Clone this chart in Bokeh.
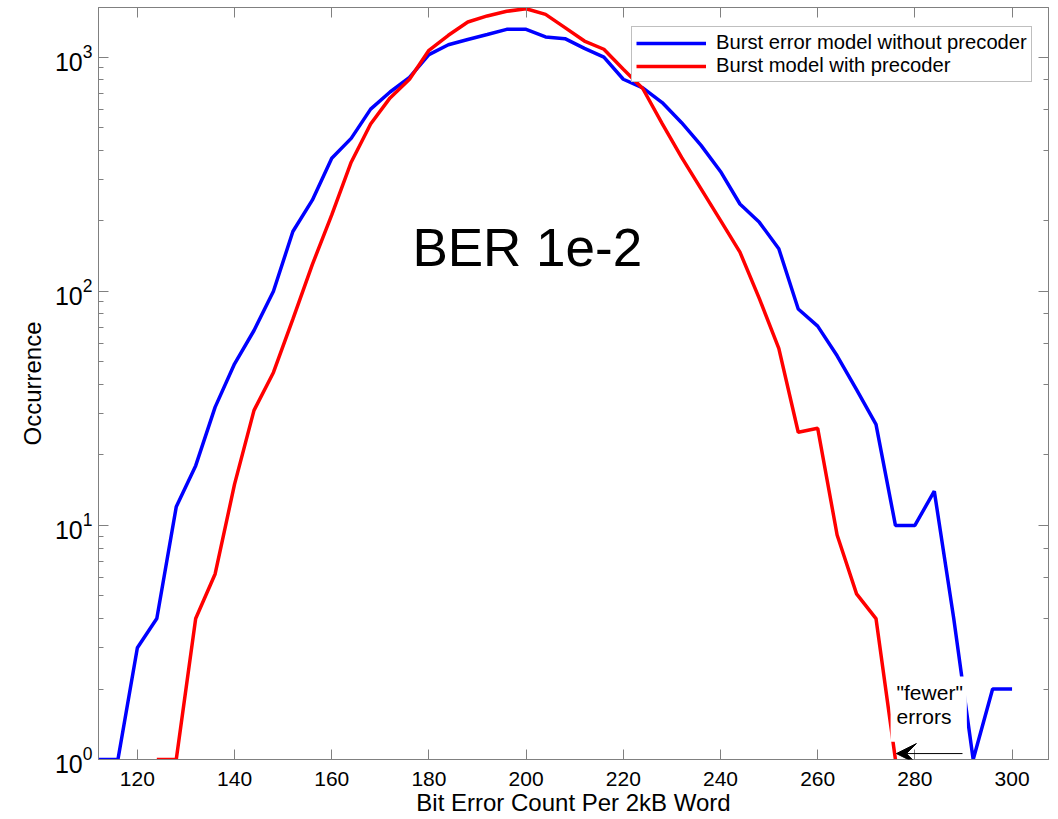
from bokeh.plotting import figure
from bokeh.models import (LogAxis, LinearAxis, Range1d, Label, Arrow, VeeHead, Legend,
                          LegendItem, FixedTicker, LogTicker, ColumnDataSource,
                          CustomJSTickFormatter)
from bokeh.embed import file_html
from bokeh.resources import INLINE

# ---- data ----
bins_blue = list(range(112, 301, 4))
occ_blue = [1, 1, 3, 4, 12, 18, 32, 49, 68, 100, 180, 245, 370, 450, 600, 710, 820,
            1025, 1130, 1190, 1250, 1315, 1315, 1220, 1200, 1090, 1000, 805, 740, 640,
            525, 420, 325, 236, 197, 152, 84, 71, 53, 38, 27, 10, 10, 14, 4, 1, 2, 2]
bins_red = list(range(124, 277, 4))
occ_red = [1, 1, 4, 6.2, 15, 31, 45, 76, 130, 212, 356, 518, 670, 805, 1070, 1240,
           1413, 1500, 1570, 1610, 1523, 1337, 1172, 1081, 888, 735, 520, 373, 274,
           201, 147, 93, 57, 25, 26, 9.1, 5.1, 4, 1]
x_ticks = [120, 140, 160, 180, 200, 220, 240, 260, 280, 300]
series_names = ["Burst error model without precoder", "Burst model with precoder"]
x_title = "Bit Error Count Per 2kB Word"
y_title = "Occurrence"
note_text = "BER 1e-2"
fewer_text = '"fewer"\nerrors'

FONT = "Liberation Sans"
GRAY = "#808080"

p = figure(width=1050, height=818, x_range=Range1d(112, 307.5), y_range=Range1d(1, 1630),
           y_axis_type="log", output_backend="svg", toolbar_location=None,
           min_border_left=98, min_border_right=2, min_border_top=7, min_border_bottom=56,
           background_fill_color="white", border_fill_color="white",
           outline_line_color=GRAY)
p.grid.visible = False

src_b = ColumnDataSource(dict(x=bins_blue, y=occ_blue))
src_r = ColumnDataSource(dict(x=bins_red, y=occ_red))
rb = p.line("x", "y", source=src_b, line_color="#0000FF", line_width=3.5)
rr = p.line("x", "y", source=src_r, line_color="#FF0000", line_width=3.5)

def style_axis(ax, labels=True):
    ax.axis_line_color = GRAY
    ax.major_tick_line_color = GRAY
    ax.minor_tick_line_color = GRAY
    ax.major_tick_in = 10
    ax.major_tick_out = 0
    ax.minor_tick_in = 5
    ax.minor_tick_out = 0
    ax.major_label_text_font = FONT
    ax.major_label_text_font_size = "21px" if labels else "1px"
    ax.major_label_text_color = "black"
    ax.axis_label_text_font = FONT
    ax.axis_label_text_font_size = "24px"
    ax.axis_label_text_font_style = "normal"
    ax.axis_label_text_color = "black"
    if not labels:
        ax.formatter = CustomJSTickFormatter(code="return '';")
        ax.major_label_standoff = 0

xa = p.xaxis[0]
xa.ticker = FixedTicker(ticks=x_ticks)
style_axis(xa)
xa.minor_tick_line_color = None
xa.major_label_standoff = 12
xa.axis_label = x_title
xa.axis_label_standoff = 0

ya = p.yaxis[0]
style_axis(ya)
ya.major_label_text_font_size = "25px"
ya.major_label_standoff = 6
ya.axis_label = y_title
ya.axis_label_standoff = 6

top = LinearAxis(ticker=FixedTicker(ticks=x_ticks))
style_axis(top, labels=False)
top.minor_tick_line_color = None
p.add_layout(top, "above")

right = LogAxis(ticker=LogTicker())
style_axis(right, labels=False)
p.add_layout(right, "right")

legend = Legend(items=[LegendItem(label=series_names[0], renderers=[rb]),
                       LegendItem(label=series_names[1], renderers=[rr])],
                location=(533, 677), padding=4, spacing=0, margin=0,
                glyph_width=70, glyph_height=20, label_standoff=10, label_height=20,
                label_text_font=FONT, label_text_font_size="20.2px",
                label_text_color="black",
                border_line_color=GRAY, border_line_width=1,
                background_fill_color="white", background_fill_alpha=1)
p.add_layout(legend)

p.add_layout(Label(x=176.6, y=154, text=note_text, text_font=FONT,
                   text_font_size="53px", text_color="black",
                   text_baseline="alphabetic"))

p.add_layout(Label(x=275.0, y=2.26, text=fewer_text, text_font=FONT,
                   text_font_size="21px", text_color="black", text_baseline="top",
                   text_line_height=1.05,
                   background_fill_color="white", padding=(6, 4, 4, 14)))

p.add_layout(Arrow(end=VeeHead(size=20, fill_color="black", line_color="black"),
                   x_start=289.8, y_start=1.06, x_end=276.2, y_end=1.06,
                   line_color="black", line_width=1))

open("out.html", "w", encoding="utf-8").write(file_html(p, INLINE))
